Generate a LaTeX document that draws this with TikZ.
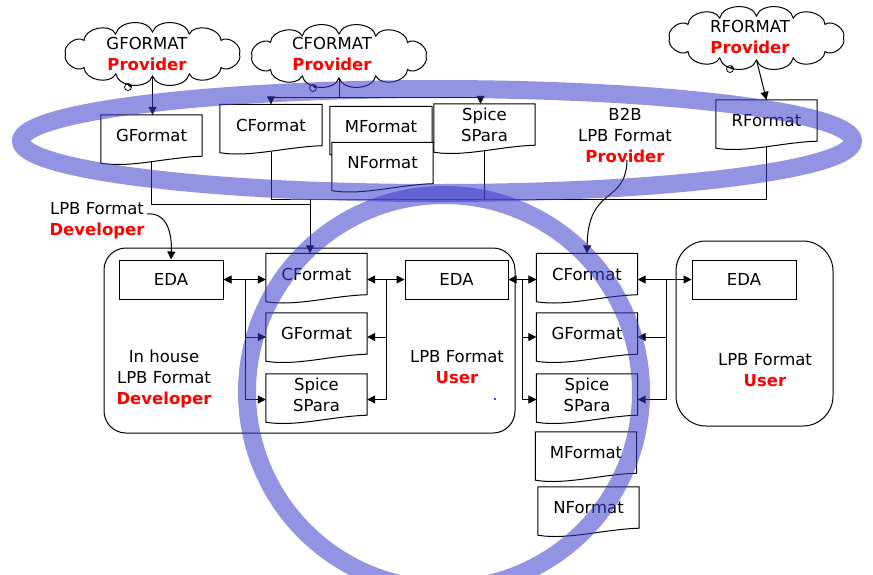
\documentclass[tikz,border=0pt]{standalone}
\usepackage{fontspec}
\setmainfont{DejaVu Sans}
\usetikzlibrary{shapes.geometric,arrows.meta,calc}
\definecolor{provred}{RGB}{255,0,0}
\definecolor{bandblue}{RGB}{60,60,205}
\newcommand\redword[1]{\textcolor{provred}{\bfseries #1}}
\newcommand\docoutline[1]{\draw[docline] ([yshift=-7pt]#1.south west) -- (#1.north west) -- (#1.north east) -- (#1.south east) .. controls ([xshift=-35pt,yshift=-1pt]#1.south east) and ([xshift=30pt,yshift=-12pt]#1.south west) .. ([yshift=-7pt]#1.south west) -- cycle;}
\newcommand\cloudoutline[1]{\filldraw[cloudline] ($(#1)+(87,0)$) \foreach \a in {38,65,90,115,142,180,218,245,270,295,322,360} { to[bend left=75] ($(#1)+({87*cos(\a)},{22*sin(\a)})$) } -- cycle;}
\begin{document}
\begin{tikzpicture}[x=1pt,y=-1pt,
  every node/.style={font=\fontsize{16.5}{21}\selectfont, text=black},
  docnode/.style={rectangle, fill=white, minimum width=101pt, minimum height=41pt, inner sep=0pt, align=center},
  docline/.style={draw=black, line width=1pt},
  edabox/.style={rectangle, draw, line width=1pt, minimum width=104pt, minimum height=39pt, inner sep=0pt},
  cloudcore/.style={ellipse, minimum width=174pt, minimum height=44pt, inner sep=0pt},
  cloudline/.style={draw=black, fill=white, line width=1pt},
  conn/.style={line width=1pt},
  arr/.style={conn, -{Triangle[length=8pt,width=8pt]}},
  darr/.style={conn, {Triangle[length=8pt,width=8pt]}-{Triangle[length=8pt,width=8pt]}},
  band/.style={draw=bandblue, draw opacity=0.55, line width=18pt},
  lbl/.style={align=center, inner sep=0pt},
  roundbox/.style={draw, line width=1pt}]
\useasboundingbox (0,0) rectangle (873,574);
\fill[white] (0,0) rectangle (873,574);

% clouds
\node[cloudcore] (gcloud) at (152.5,54) {};
\cloudoutline{gcloud}
\node[lbl] (gtext) at (147,54) {GFORMAT\\\redword{Provider}};
\node[cloudcore] (ccloud) at (339,56) {};
\cloudoutline{ccloud}
\node[lbl] (ctext) at (332,54) {CFORMAT\\\redword{Provider}};
\node[cloudcore] (rcloud) at (756.5,38) {};
\cloudoutline{rcloud}
\node[lbl] (rtext) at (750,37) {RFORMAT\\\redword{Provider}};
\draw[line width=0.8pt] (128,87) circle (3.5pt) (130,85.5) circle (1.3pt);
\draw[line width=0.8pt] (313,88) circle (3.5pt) (315,86.5) circle (1.3pt);
\draw[line width=0.8pt] (730,69) circle (3.5pt) (732,67.5) circle (1.3pt);

% top documents
\node[docnode] (gf1) at (151.5,135.5) {GFormat}; \docoutline{gf1}
\node[docnode, minimum width=102pt] (cf1) at (271,125) {CFormat}; \docoutline{cf1}
\node[docnode, minimum width=102pt] (mf1) at (381,127) {MFormat}; \docoutline{mf1}
\node[docnode] (nf1) at (382.5,163) {NFormat}; \docoutline{nf1}
\node[docnode] (sp1) at (484.5,124.5) {Spice\\SPara}; \docoutline{sp1}
\node[docnode] (rf1) at (766.5,120.5) {RFormat}; \docoutline{rf1}
\node[lbl] (b2b) at (625,135) {B2B\\LPB Format\\\redword{Provider}};

% cloud connectors
\draw[arr] (gcloud.south) -- (gcloud.south |- gf1.north);
\coordinate (cj) at (340,97);
\draw[conn] (ccloud.south) -- (ccloud.south |- cj);
\draw[arr] (ccloud.south |- cj) -| (cf1.north);
\draw[arr] (ccloud.south |- cj) -| ([xshift=-4pt]sp1.north);
\draw[arr] (rcloud.south) -- (rf1.north);

% boxes
\draw[roundbox, rounded corners=22pt] (104,248) rectangle (515,433);
\draw[roundbox, rounded corners=30pt] (676,241) rectangle (833,426);

\node[edabox] (eda1) at (171,279.5) {EDA};
\node[edabox, minimum width=103pt] (eda2) at (456.5,279.5) {EDA};
\node[edabox] (eda3) at (744,279.5) {EDA};

\node[docnode] (cf2) at (316.5,274) {CFormat}; \docoutline{cf2}
\node[docnode] (gf2) at (316.5,333.5) {GFormat}; \docoutline{gf2}
\node[docnode] (sp2) at (316.5,394.5) {Spice\\SPara}; \docoutline{sp2}
\node[docnode] (cf3) at (587,274) {CFormat}; \docoutline{cf3}
\node[docnode] (gf3) at (587,333.5) {GFormat}; \docoutline{gf3}
\node[docnode] (sp3) at (587,394.5) {Spice\\SPara}; \docoutline{sp3}
\node[docnode] (mf3) at (586,452.5) {MFormat}; \docoutline{mf3}
\node[docnode] (nf3) at (588.5,507.5) {NFormat}; \docoutline{nf3}

\node[lbl] (devlabel) at (97,221) {LPB Format\\\redword{Developer}};
\node[lbl] (inhouse) at (164,379) {In house\\LPB Format\\\redword{Developer}};
\node[lbl] (user1) at (457,367) {LPB Format\\\redword{User}};
\node[lbl] (user2) at (765,370) {LPB Format\\\redword{User}};
\fill[blue] (495,399) circle (1.2pt);

% merge of top documents
\coordinate (mg) at (310,204);
\coordinate (mc) at (310,199);
\draw[conn] ([yshift=-6pt]gf1.south) |- (mg);
\draw[conn] ([yshift=-6pt]cf1.south) |- (mc) -| ([yshift=-6pt]rf1.south);
\draw[conn] ([yshift=-6pt]sp1.south) -- (sp1.south |- mc);
\draw[arr] (mc) -- (mc |- cf2.north);

% curved label arrows
\coordinate (devstart) at (147,214);
\draw[arr] (devstart) .. controls (168,212) and (172,235) .. (eda1.north);
\coordinate (b2bstart) at (627,160);
\draw[arr] (b2bstart) .. controls (626,205) and (588,185) .. (cf3.north);

% buses
\coordinate (b1) at (245,279.5);
\draw[darr] (eda1.east) -- (eda1.east -| cf2.west);
\draw[arr] (b1) |- ([yshift=-3.5pt]gf2.west);
\draw[arr] (b1) |- ([yshift=-5pt]sp2.west);
\coordinate (b2) at (386,279.5);
\draw[darr] (eda2.west -| cf2.east) -- (eda2.west);
\draw[arr] (b2) |- ([yshift=-3.5pt]gf2.east);
\draw[arr] (b2) |- ([yshift=-5pt]sp2.east);
\coordinate (b3) at (522,279.5);
\draw[darr] (eda2.east) -- (eda2.east -| cf3.west);
\draw[arr] (b3) |- ([yshift=-3.5pt]gf3.west);
\draw[arr] (b3) |- ([yshift=-5pt]sp3.west);
\coordinate (b4) at (666,279.5);
\draw[darr] (eda3.west -| cf3.east) -- (eda3.west);
\draw[arr] (b4) |- ([yshift=-3.5pt]gf3.east);
\draw[arr] (b4) |- ([yshift=-5pt]sp3.east);

% bands
\draw[band] (437,141) ellipse [x radius=416pt, y radius=52pt];
\draw[band] (444,392) circle [radius=197pt];
\end{tikzpicture}
\end{document}
